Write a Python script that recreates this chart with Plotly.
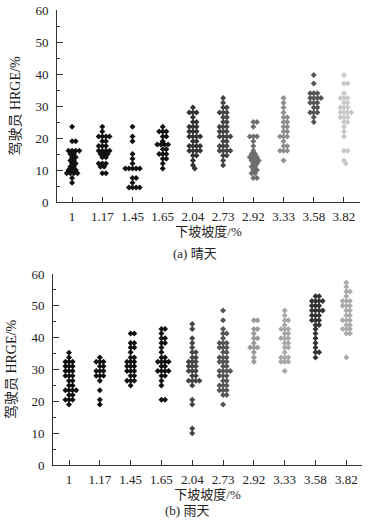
import plotly.graph_objects as go

categories = ["1", "1.17", "1.45", "1.65", "2.04", "2.73", "2.92", "3.33", "3.58", "3.82"]

# (a) sunny
sunny_1 = [23.5, 19, 19, 16, 16, 16, 16, 15, 15, 14, 14, 13, 13, 12, 12, 11, 11, 10, 10, 10, 9, 9, 9, 9, 7.5, 6]
sunny_117 = [23.5, 22, 20.5, 20.5, 20.5, 20.5, 19, 19, 17.5, 17.5, 17.5, 16, 16, 16, 16, 15, 15, 15, 14, 14, 12, 12, 12, 11, 11, 9, 9]
sunny_145 = [23.5, 20.5, 19, 15, 13.5, 12, 10.5, 10.5, 10.5, 10.5, 10.5, 7.5, 7.5, 6, 4.5, 4.5, 4.5, 4.5]
sunny_165 = [23.5, 22, 22, 22, 20.5, 20.5, 19, 18, 18, 18, 18, 16.5, 16.5, 15, 15, 15, 13.5, 13.5, 12, 10.5]
sunny_204 = [29.5, 28, 28, 28, 26.5, 25, 25, 23.5, 23.5, 23.5, 22, 22, 22, 20.5, 20.5, 20.5, 20.5, 19, 19,
             17.5, 17.5, 17.5, 17.5, 16, 16, 16, 16, 14.5, 14.5, 13, 11.5, 10.5]
sunny_273 = [32.5, 31, 29.5, 29.5, 28, 28, 28, 26.5, 26.5, 25, 25, 23.5, 23.5, 23.5, 22, 22, 22, 20.5, 20.5,
             20.5, 20.5, 19, 19, 17.5, 17.5, 17.5, 16, 16, 16, 16, 14.5, 14.5, 13, 11.5]
sunny_292 = [25, 25, 23.5, 20.5, 20.5, 20.5, 19, 17.5, 16, 15, 15, 14, 14, 14, 13, 13, 13, 12, 12, 11, 11,
             10, 10, 9, 9, 7.5, 7.5]
sunny_333 = [32.5, 31, 29.5, 28, 26.5, 26.5, 25, 25, 23.5, 23.5, 22, 22, 20.5, 20.5, 20.5, 19, 17.5, 17.5,
             16, 16, 16, 13]
sunny_358 = [39.7, 37, 34, 34, 34, 32.5, 32.5, 32.5, 32.5, 31, 31, 31, 29.5, 29.5, 28, 28, 28, 26.5, 25]
sunny_382 = [39.7, 37, 37, 34, 32.5, 32.5, 32.5, 31, 31, 29.5, 29.5, 29.5, 28, 28, 28, 28, 26.5, 26.5, 26.5,
             25, 25, 23.5, 22, 20.5, 16, 16, 13, 12]

# (b) rainy
rainy_1 = [35.3, 33.8, 32.4, 32.4, 32.4, 31, 31, 31, 29.5, 29.5, 29.5, 28, 28, 28, 26.5, 26.5, 25, 25,
           23.5, 23.5, 23.5, 23.5, 22, 22, 20.5, 20.5, 20.5, 19]
rainy_117 = [33.8, 32.4, 32.4, 32.4, 31, 31, 29.5, 29.5, 29.5, 28, 28, 28, 26.5, 23.5, 20.5, 19]
rainy_145 = [41.3, 41.3, 38.3, 38.3, 36.9, 36.9, 35.4, 33.8, 33.8, 32.4, 32.4, 32.4, 31, 31, 31, 29.5,
             29.5, 29.5, 28, 28, 26.5, 26.5, 26.5, 25]
rainy_165 = [42.7, 42.7, 41.3, 39.8, 39.8, 38.3, 38.3, 36.9, 35.4, 33.8, 33.8, 32.4, 32.4, 32.4, 32.4, 31,
             31, 29.5, 29.5, 29.5, 29.5, 28, 28, 26.5, 25, 20.5, 20.5]
rainy_204 = [44.3, 42.7, 39.8, 38.3, 36.9, 35.4, 35.4, 33.8, 33.8, 32.4, 32.4, 32.4, 31, 31, 31, 29.5, 29.5,
             29.5, 28, 28, 26.5, 26.5, 26.5, 26.5, 25, 20.5, 19, 11.5, 10]
rainy_273 = [48.5, 45.5, 42.7, 41.3, 41.3, 39.8, 38.3, 38.3, 38.3, 36.9, 36.9, 36.9, 35.4, 35.4, 33.8, 33.8,
             33.8, 32.4, 32.4, 32.4, 31, 31, 29.5, 29.5, 29.5, 29.5, 28, 28, 28, 26.5, 26.5, 25, 25, 25,
             23.5, 23.5, 23.5, 22, 22, 19]
rainy_292 = [45.5, 45.5, 42.7, 42.7, 41.3, 39.8, 39.8, 38.3, 36.9, 36.9, 36.9, 35.4, 33.8, 32.4]
rainy_333 = [48.5, 47, 45.5, 45.5, 44, 42.7, 42.7, 42.7, 41.3, 41.3, 39.8, 39.8, 39.8, 38.3, 38.3, 36.9,
             36.9, 35.4, 33.8, 33.8, 33.8, 32.4, 32.4, 32.4, 29.5]
rainy_358 = [53, 53, 51.5, 51.5, 51.5, 51.5, 50, 50, 50, 48.5, 48.5, 48.5, 48.5, 47, 47, 47, 45.5, 45.5,
             45.5, 44, 44, 42.7, 41.3, 39.8, 38.3, 36.9, 35.4, 35.4, 33.8]
rainy_382 = [57.3, 56, 54.5, 54.5, 53, 51.5, 51.5, 51.5, 50, 50, 50, 48.5, 48.5, 47, 47, 45.5, 45.5, 45.5,
             44, 44, 42.7, 42.7, 42.7, 41.3, 41.3, 33.8]

sunny = [sunny_1, sunny_117, sunny_145, sunny_165, sunny_204, sunny_273, sunny_292, sunny_333, sunny_358, sunny_382]
rainy = [rainy_1, rainy_117, rainy_145, rainy_165, rainy_204, rainy_273, rainy_292, rainy_333, rainy_358, rainy_382]

sunny_colors = ["#111111", "#111111", "#111111", "#111111", "#333333", "#444444", "#6e6e6e", "#8e8e8e", "#555555", "#c8c8c8"]
rainy_colors = ["#111111", "#111111", "#111111", "#111111", "#444444", "#555555", "#9a9a9a", "#a8a8a8", "#333333", "#aaaaaa"]

W, H = 374, 530


def px_x(p):
    return p / W


def px_y(p):
    return 1 - p / H


def swarm(values, py_unit, px_cat, diam=3.6):
    """Beeswarm horizontal offsets (in category units) computed from values."""
    placed = []
    offs = []
    step = diam / 2.0
    for v in values:
        yp = v * py_unit
        k = 0
        while True:
            cand = [0.0] if k == 0 else [k * step, -k * step]
            ok_off = None
            for c in cand:
                if all((c - qx) ** 2 + (yp - qy) ** 2 >= diam ** 2 * 0.85 for qx, qy in placed):
                    ok_off = c
                    break
            if ok_off is not None:
                placed.append((ok_off, yp))
                offs.append(ok_off / px_cat)
                break
            k += 1
    return offs


fig = go.Figure()
FONT = "Liberation Serif, 'Noto Sans CJK SC', serif"

for data, colors, xa, ya, pyu, pxc in [(sunny, sunny_colors, "x", "y", 3.2, 30.2),
                                       (rainy, rainy_colors, "x2", "y2", 3.18, 30.8)]:
    for i, vals in enumerate(data):
        offs = swarm(vals, pyu, pxc)
        fig.add_trace(go.Scatter(
            x=[i + o for o in offs], y=vals, mode="markers",
            marker=dict(symbol="diamond", size=4.6, color=colors[i], line=dict(width=0)),
            xaxis=xa, yaxis=ya, showlegend=False, hoverinfo="y"))

common_x = dict(tickmode="array", tickvals=list(range(10)), ticktext=categories,
                showline=True, linecolor="#333", linewidth=1, ticks="inside", ticklen=5,
                tickcolor="#333", showgrid=False, zeroline=False, automargin=False,
                ticklabelstandoff=2,
                tickfont=dict(family=FONT, size=13, color="#222"),
                title=dict(text="下坡坡度/%", font=dict(family=FONT, size=13, color="#222"), standoff=4))
common_y = dict(range=[0, 60], tickvals=[0, 10, 20, 30, 40, 50, 60], showline=True, linecolor="#333",
                linewidth=1, ticks="inside", ticklen=6, tickcolor="#333", showgrid=False, zeroline=False,
                automargin=False, ticklabelstandoff=5,
                minor=dict(dtick=5, ticks="inside", ticklen=3, tickcolor="#333"),
                tickfont=dict(family=FONT, size=13, color="#222"),
                title=dict(text="驾驶员 HRGE/%", font=dict(family=FONT, size=14, color="#222"), standoff=11))

fig.update_layout(
    width=W, height=H, margin=dict(l=0, r=0, t=0, b=0),
    paper_bgcolor="white", plot_bgcolor="white",
    xaxis=dict(domain=[px_x(57), px_x(360)], range=[-0.5, 9.53], anchor="y", **common_x),
    yaxis=dict(domain=[px_y(202), px_y(10)], anchor="x", **common_y),
    xaxis2=dict(domain=[px_x(53), px_x(362)], range=[-0.52, 9.51], anchor="y2", **common_x),
    yaxis2=dict(domain=[px_y(465), px_y(274)], anchor="x2", **common_y),
    annotations=[
        dict(text="(a) 晴天", x=px_x(195), y=px_y(253), xref="paper", yref="paper",
             showarrow=False, font=dict(family=FONT, size=13, color="#222")),
        dict(text="(b) 雨天", x=px_x(187), y=px_y(520), xref="paper", yref="paper",
             showarrow=False, font=dict(family=FONT, size=13, color="#222")),
    ],
)

fig.write_html("out.html", config={"displayModeBar": False},
               post_script="document.body.style.margin='0';document.body.style.overflow='hidden';")
